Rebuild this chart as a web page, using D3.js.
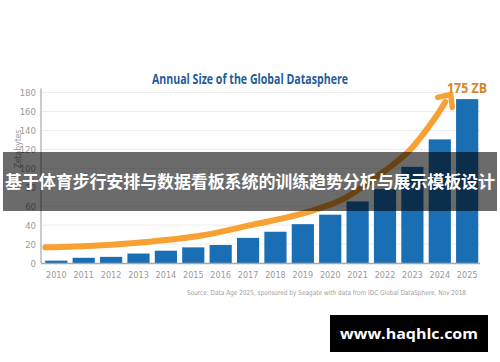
<!DOCTYPE html>
<html>
<head>
<meta charset="utf-8">
<script src="https://cdn.jsdelivr.net/npm/d3@7/dist/d3.min.js"></script>
<style>
    body { margin: 0; background: #fff; }
    svg { display: block; }
</style>
</head>
<body>
<div id="chart-area"></div>
<script>
const W = 500;
const H = 362;

// Data
const years = ["2010", "2011", "2012", "2013", "2014", "2015", "2016", "2017",
    "2018", "2019", "2020", "2021", "2022", "2023", "2024", "2025"];
const zettabytes = [2.5, 5.5, 6.5, 10, 13, 16.5, 19, 26.5, 33, 41, 51, 65, 78, 101.5, 130.5, 173];
const yTicks = [0, 20, 40, 60, 80, 100, 120, 140, 160, 180];
// hand drawn trend arrow, read as [year, ZB]
const trendYears = [2009.6, 2011.5, 2013.4, 2015.3, 2017.1, 2018.9, 2020.4, 2021.6, 2022.9, 2023.8, 2024.2];
const trendValues = [16.5, 18.5, 22.5, 29, 40, 51.5, 66.5, 89, 119, 152, 170];

const titleText = "Annual Size of the Global Datasphere";
const calloutText = "175 ZB";
const yLabelText = "Zetabytes";
const sourceText = "Source: Data Age 2025, sponsored by Seagate with data from IDC Global DataSphere, Nov 2018";
const bannerText = "基于体育步行安排与数据看板系统的训练趋势分析与展示模板设计";
const watermarkText = "www.haqhlc.com";

const narrow = "'Liberation Sans Narrow', 'DejaVu Sans Condensed', 'Open Sans', sans-serif";

const plot = { left: 41, right: 481, top: 92.5, bottom: 263 };

const svg = d3
    .select("#chart-area")
    .append("svg")
    .attr("width", W)
    .attr("height", H);

//Scales
const xScale = d3.scaleBand()
    .domain(years)
    .range([plot.left + 1.5, plot.right])
    .paddingInner(0.19)
    .paddingOuter(0.1);
const yScale = d3.scaleLinear().domain([0, 180]).range([plot.bottom, plot.top]);
const yearX = d3.scaleLinear()
    .domain([2010, 2025])
    .range([xScale("2010") + xScale.bandwidth() / 2, xScale("2025") + xScale.bandwidth() / 2]);

//Grid
svg.append("g")
    .selectAll("line")
    .data(yTicks.slice(1))
    .enter()
    .append("line")
    .attr("x1", plot.left)
    .attr("x2", plot.right - 1)
    .attr("y1", (d) => yScale(d))
    .attr("y2", (d) => yScale(d))
    .attr("stroke", "#ececec")
    .attr("stroke-width", 1);

//Axes
const yAxisCall = d3.axisLeft(yScale).tickValues(yTicks).tickSize(0).tickPadding(5);
const yAxis = svg.append("g")
    .attr("transform", `translate(${plot.left}, 0)`)
    .call(yAxisCall);
yAxis.select(".domain").remove();
yAxis.selectAll("text")
    .attr("fill", "#9a9a9a")
    .attr("font-size", "9.5px")
    .attr("font-family", narrow);

svg.append("line")
    .attr("x1", plot.left)
    .attr("x2", plot.left)
    .attr("y1", plot.top - 4)
    .attr("y2", plot.bottom)
    .attr("stroke", "#a8a8a8")
    .attr("stroke-width", 1.2);

//Bars
svg.append("g")
    .selectAll("rect")
    .data(years)
    .enter()
    .append("rect")
    .attr("x", (d) => xScale(d))
    .attr("width", xScale.bandwidth())
    .attr("y", (d, i) => yScale(zettabytes[i]))
    .attr("height", (d, i) => yScale(0) - yScale(zettabytes[i]))
    .attr("fill", "#1a6eb4");

svg.append("line")
    .attr("x1", plot.left)
    .attr("x2", plot.right - 1)
    .attr("y1", plot.bottom + 0.5)
    .attr("y2", plot.bottom + 0.5)
    .attr("stroke", "#a8a8a8")
    .attr("stroke-width", 1.5);

const xAxisCall = d3.axisBottom(xScale).tickSize(0).tickPadding(9);
const xAxis = svg.append("g")
    .attr("transform", `translate(0, ${plot.bottom})`)
    .call(xAxisCall);
xAxis.select(".domain").remove();
xAxis.selectAll("text")
    .attr("fill", "#9a9a9a")
    .attr("font-size", "9px")
    .attr("font-family", narrow);

//Trend arrow
const trend = trendYears.map((yr, i) => [yearX(yr), yScale(trendValues[i])]);
const line = d3.line().curve(d3.curveCatmullRom.alpha(0.5));
svg.append("path")
    .attr("d", line(trend))
    .attr("fill", "none")
    .attr("stroke", "#f8a031")
    .attr("stroke-width", 6)
    .attr("stroke-linecap", "round");

const tip = [yearX(2024.4), yScale(178)];
svg.append("path")
    .attr("d", `M${tip[0] - 13},${tip[1] + 3}L${tip[0]},${tip[1]}L${tip[0] + 1.5},${tip[1] + 13}`)
    .attr("fill", "none")
    .attr("stroke", "#f8a031")
    .attr("stroke-width", 5.5)
    .attr("stroke-linecap", "round")
    .attr("stroke-linejoin", "round");

//Labels
svg.append("text")
    .text(titleText)
    .attr("x", 250)
    .attr("y", 83.5)
    .attr("text-anchor", "middle")
    .attr("font-family", "'Open Sans', sans-serif")
    .attr("font-weight", "bold")
    .attr("font-size", "14px")
    .attr("textLength", 196)
    .attr("lengthAdjust", "spacingAndGlyphs")
    .attr("fill", "#1f5b99");

svg.append("text")
    .text(calloutText)
    .attr("x", 467)
    .attr("y", 92.5)
    .attr("text-anchor", "middle")
    .attr("font-family", "'Open Sans', sans-serif")
    .attr("font-weight", "bold")
    .attr("font-size", "15px")
    .attr("textLength", 40)
    .attr("lengthAdjust", "spacingAndGlyphs")
    .attr("fill", "#dc852a");

svg.append("text")
    .text(yLabelText)
    .attr("transform", "translate(21, 149) rotate(-90)")
    .attr("text-anchor", "middle")
    .attr("font-family", narrow)
    .attr("font-size", "8.5px")
    .attr("fill", "#9a9a9a");

svg.append("text")
    .text(sourceText)
    .attr("x", 466)
    .attr("y", 294.5)
    .attr("text-anchor", "end")
    .attr("font-family", narrow)
    .attr("font-size", "6.8px")
    .attr("textLength", 279)
    .attr("lengthAdjust", "spacingAndGlyphs")
    .attr("fill", "#a0a0a0");

//Banner overlay
svg.append("rect")
    .attr("x", 3)
    .attr("y", 152)
    .attr("width", 494)
    .attr("height", 59)
    .attr("fill", "#000")
    .attr("opacity", 0.58);

svg.append("text")
    .text(bannerText)
    .attr("x", 250)
    .attr("y", 188)
    .attr("text-anchor", "middle")
    .attr("font-family", "'Noto Sans CJK SC', sans-serif")
    .attr("font-weight", "bold")
    .attr("font-size", "17px")
    .attr("textLength", 490)
    .attr("fill", "#fff");

//Watermark
svg.append("rect")
    .attr("x", 330)
    .attr("y", 315)
    .attr("width", 158)
    .attr("height", 37)
    .attr("fill", "#000");

svg.append("text")
    .text(watermarkText)
    .attr("x", 409)
    .attr("y", 339)
    .attr("text-anchor", "middle")
    .attr("font-family", "'Open Sans', 'Liberation Sans', sans-serif")
    .attr("font-weight", "bold")
    .attr("font-size", "15px")
    .attr("textLength", 138)
    .attr("lengthAdjust", "spacingAndGlyphs")
    .attr("fill", "#fff");
</script>
</body>
</html>
